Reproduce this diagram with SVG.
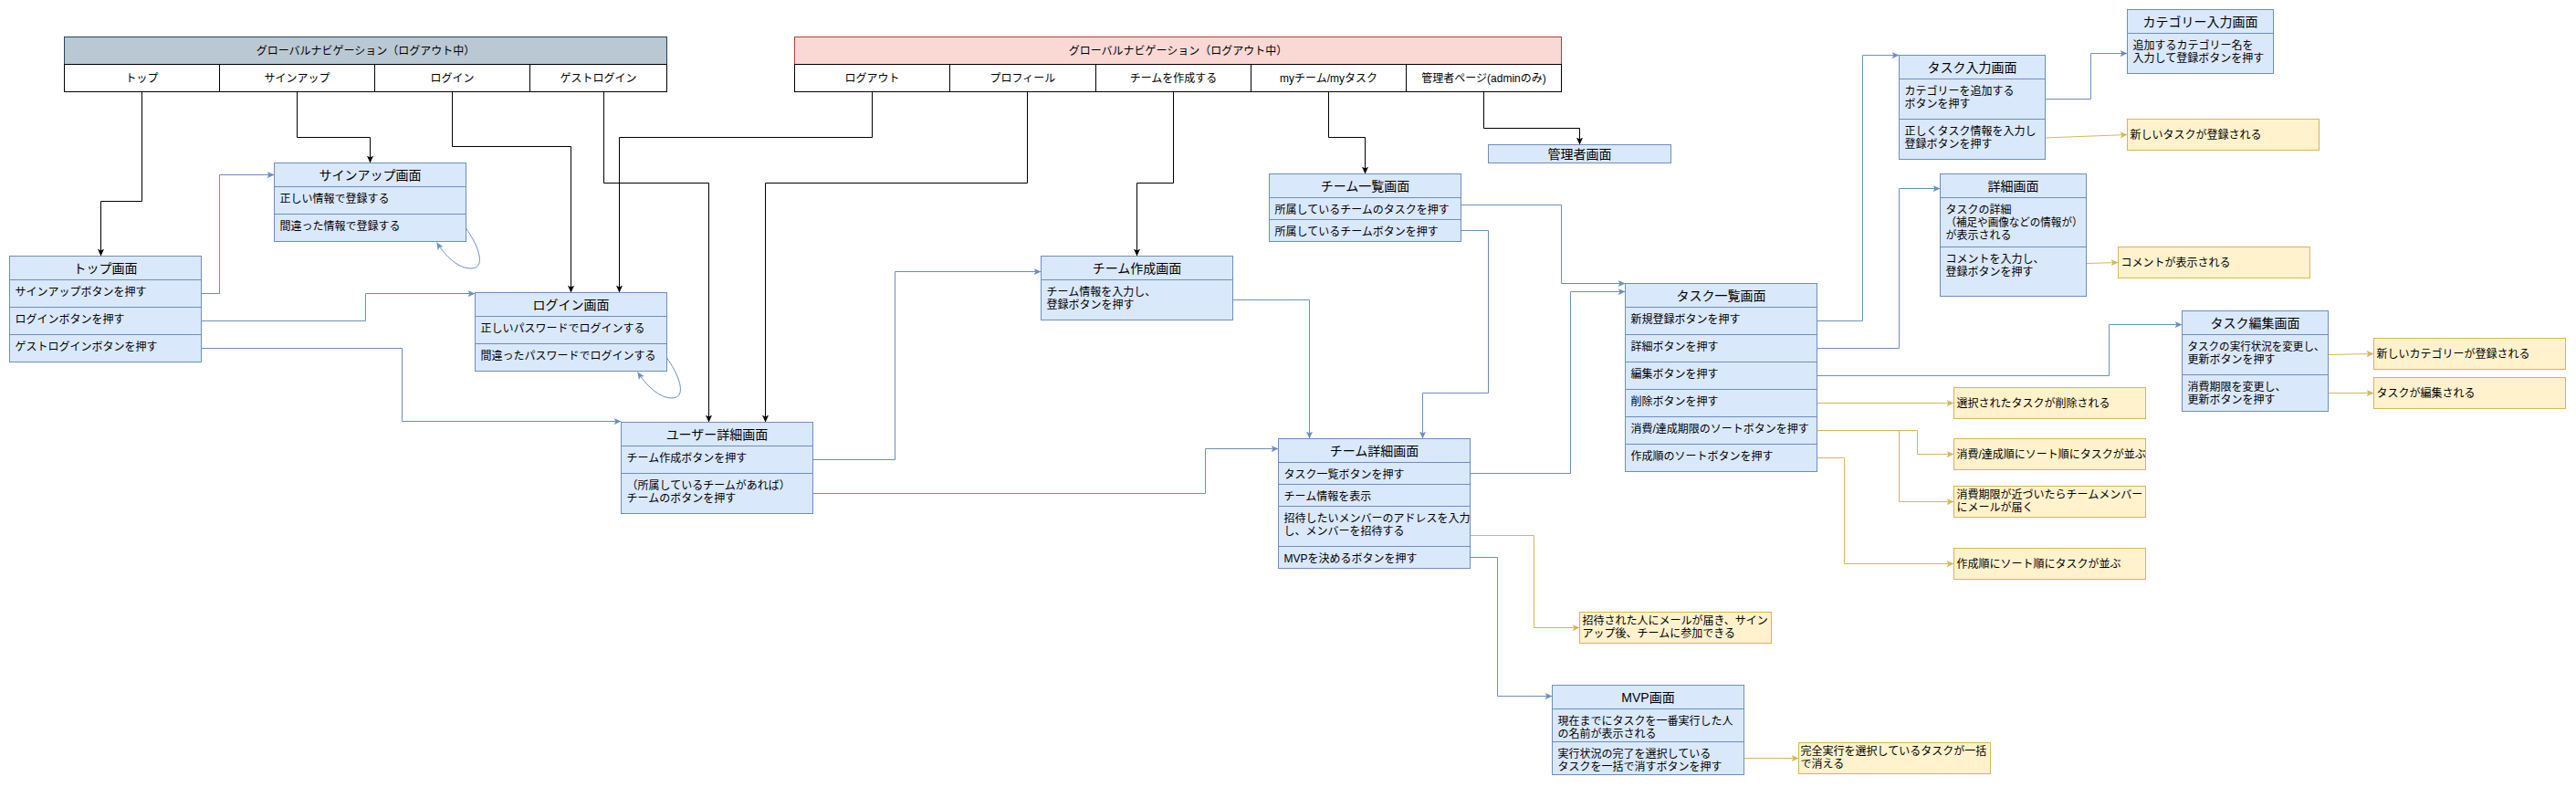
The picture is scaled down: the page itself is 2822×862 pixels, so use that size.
<svg xmlns="http://www.w3.org/2000/svg" width="2822" height="862" viewBox="0 0 2822 862">
<style>
text{font-family:"Liberation Sans","Noto Sans CJK JP",sans-serif;font-size:12px;fill:#000}
.ti{font-size:14px;text-anchor:middle}
.c{text-anchor:middle}
.b{fill:#dae8fc;stroke:#6c8ebf;stroke-width:1}
.d{stroke:#6c8ebf;stroke-width:1;fill:none}
.y{fill:#fff2cc;stroke:#d6b656;stroke-width:1}
.nw{fill:#fff;stroke:#000;stroke-width:1}
.cb{fill:none;stroke:#000;stroke-width:1;marker-end:url(#ab)}
.cl{fill:none;stroke:#6c8ebf;stroke-width:1;marker-end:url(#al)}
.cy{fill:none;stroke:#d6b656;stroke-width:1;marker-end:url(#ay)}
</style>
<defs>
<marker id="ab" viewBox="0 0 10 10" refX="10" refY="5" markerWidth="8" markerHeight="8" markerUnits="userSpaceOnUse" orient="auto"><path d="M0,0.5 L10,5 L0,9.5 L2.5,5 z" fill="#000"/></marker>
<marker id="al" viewBox="0 0 10 10" refX="10" refY="5" markerWidth="8" markerHeight="8" markerUnits="userSpaceOnUse" orient="auto"><path d="M0,0.5 L10,5 L0,9.5 L2.5,5 z" fill="#6c8ebf"/></marker>
<marker id="ay" viewBox="0 0 10 10" refX="10" refY="5" markerWidth="8" markerHeight="8" markerUnits="userSpaceOnUse" orient="auto"><path d="M0,0.5 L10,5 L0,9.5 L2.5,5 z" fill="#d6b656"/></marker>
</defs>
<rect width="2822" height="862" fill="#fff"/>

<g id="connectors">
<path class="cb" d="M155.5,100 V220.5 H110.5 V280.5"/>
<path class="cb" d="M325.5,100 V150.5 H405.5 V178.5"/>
<path class="cb" d="M495.5,100 V160.5 H625.5 V320.5"/>
<path class="cb" d="M661.5,100 V200.5 H776.5 V462.5"/>
<path class="cb" d="M955.5,100 V150.5 H678.5 V320.5"/>
<path class="cb" d="M1125.5,100 V200.5 H838.5 V462.5"/>
<path class="cb" d="M1285.5,100 V200.5 H1245.5 V280.5"/>
<path class="cb" d="M1455.5,100 V150.5 H1495.5 V190.5"/>
<path class="cb" d="M1625.5,100 V140.5 H1730.5 V158.5"/>

<path class="cl" d="M220.5,321.5 H240.5 V191.5 H300.5"/>
<path class="cl" d="M220.5,351.5 H400.5 V321.5 H520.5"/>
<path class="cl" d="M220.5,381.5 H440.5 V461.5 H680.5"/>
<path class="cl" d="M510.5,250 C526,272 532,294 516,294 C502,294 488,281 478.5,265.5"/>
<path class="cl" d="M730.5,392 C746,414 752,436 736,436 C722,436 708,422 698.5,407.5"/>
<path class="cl" d="M890.5,503.5 H980.5 V297.5 H1140.5"/>
<path class="cl" d="M890.5,540.5 H1320.5 V491.5 H1400.5"/>
<path class="cl" d="M1350.5,328.5 H1434.5 V480.5"/>
<path class="cl" d="M1600.5,224.5 H1710.5 V310.5 H1780.5"/>
<path class="cl" d="M1600.5,252.5 H1630.5 V430.5 H1558.5 V480.5"/>
<path class="cl" d="M1610.5,518.5 H1720.5 V319.5 H1780.5"/>
<path class="cl" d="M1610.5,610.5 H1640.5 V762.5 H1700.5"/>
<path class="cl" d="M1990.5,351.5 H2040.5 V60.5 H2080.5"/>
<path class="cl" d="M1990.5,381.5 H2080.5 V206.5 H2125.5"/>
<path class="cl" d="M1990.5,411.5 H2310.5 V355.5 H2390.5"/>
<path class="cl" d="M2240.5,108.5 H2290.5 V58.5 H2330.5"/>

<path class="cy" d="M2240.5,151 L2330.5,147.5"/>
<path class="cy" d="M2285.5,288.5 L2320.5,287.5"/>
<path class="cy" d="M2550.5,388.5 L2600.5,387.5"/>
<path class="cy" d="M2550.5,430.5 H2600.5"/>
<path class="cy" d="M1990.5,441.5 H2140.5"/>
<path class="cy" d="M1990.5,471.5 H2100.5 V497.5 H2140.5"/>
<path class="cy" d="M1990.5,471.5 H2080.5 V549.5 H2140.5"/>
<path class="cy" d="M1990.5,501.5 H2020.5 V617.5 H2140.5"/>
<path class="cy" d="M1610.5,586.5 H1680.5 V687.5 H1730.5"/>
<path class="cy" d="M1910.5,830.5 H1970.5"/>
</g>

<g id="nav-logout">
<rect x="70.5" y="40.5" width="660" height="30" fill="#bac8d3" stroke="#23445d"/>
<text class="c" x="400.5" y="59.5">グローバルナビゲーション（ログアウト中）</text>
<rect class="nw" x="70.5" y="70.5" width="170" height="30"/>
<rect class="nw" x="240.5" y="70.5" width="170" height="30"/>
<rect class="nw" x="410.5" y="70.5" width="170" height="30"/>
<rect class="nw" x="580.5" y="70.5" width="150" height="30"/>
<text class="c" x="155.5" y="89.5">トップ</text>
<text class="c" x="325.5" y="89.5">サインアップ</text>
<text class="c" x="495.5" y="89.5">ログイン</text>
<text class="c" x="655.5" y="89.5">ゲストログイン</text>
</g>

<g id="nav-login">
<rect x="870.5" y="40.5" width="840" height="30" fill="#fad9d5" stroke="#ae4132"/>
<text class="c" x="1290.5" y="59.5">グローバルナビゲーション（ログアウト中）</text>
<rect class="nw" x="870.5" y="70.5" width="170" height="30"/>
<rect class="nw" x="1040.5" y="70.5" width="160" height="30"/>
<rect class="nw" x="1200.5" y="70.5" width="170" height="30"/>
<rect class="nw" x="1370.5" y="70.5" width="170" height="30"/>
<rect class="nw" x="1540.5" y="70.5" width="170" height="30"/>
<text class="c" x="955.5" y="89.5">ログアウト</text>
<text class="c" x="1120.5" y="89.5">プロフィール</text>
<text class="c" x="1285.5" y="89.5">チームを作成する</text>
<text class="c" x="1455.5" y="89.5">myチーム/myタスク</text>
<text class="c" x="1625.5" y="89.5">管理者ページ(adminのみ)</text>
</g>

<g id="top">
<rect class="b" x="10.5" y="280.5" width="210" height="116"/>
<path class="d" d="M10.5,306.5 H220.5 M10.5,336.5 H220.5 M10.5,366.5 H220.5"/>
<text class="ti" x="115.5" y="298.5">トップ画面</text>
<text x="16.5" y="323.5">サインアップボタンを押す</text>
<text x="16.5" y="353.5">ログインボタンを押す</text>
<text x="16.5" y="383.5">ゲストログインボタンを押す</text>
</g>

<g id="signup">
<rect class="b" x="300.5" y="178.5" width="210" height="86"/>
<path class="d" d="M300.5,204.5 H510.5 M300.5,234.5 H510.5"/>
<text class="ti" x="405.5" y="196.5">サインアップ画面</text>
<text x="306.5" y="221.5">正しい情報で登録する</text>
<text x="306.5" y="251.5">間違った情報で登録する</text>
</g>

<g id="login">
<rect class="b" x="520.5" y="320.5" width="210" height="86"/>
<path class="d" d="M520.5,346.5 H730.5 M520.5,376.5 H730.5"/>
<text class="ti" x="625.5" y="338.5">ログイン画面</text>
<text x="526.5" y="363.5">正しいパスワードでログインする</text>
<text x="526.5" y="393.5">間違ったパスワードでログインする</text>
</g>

<g id="user-detail">
<rect class="b" x="680.5" y="462.5" width="210" height="100"/>
<path class="d" d="M680.5,488.5 H890.5 M680.5,518.5 H890.5"/>
<text class="ti" x="785.5" y="480.5">ユーザー詳細画面</text>
<text x="686.5" y="505.5">チーム作成ボタンを押す</text>
<text x="686.5" y="535.5">（所属しているチームがあれば）</text>
<text x="686.5" y="549.5">チームのボタンを押す</text>
</g>

<g id="team-create">
<rect class="b" x="1140.5" y="280.5" width="210" height="70"/>
<path class="d" d="M1140.5,306.5 H1350.5"/>
<text class="ti" x="1245.5" y="298.5">チーム作成画面</text>
<text x="1146.5" y="323.5">チーム情報を入力し、</text>
<text x="1146.5" y="337.5">登録ボタンを押す</text>
</g>

<g id="team-list">
<rect class="b" x="1390.5" y="190.5" width="210" height="74"/>
<path class="d" d="M1390.5,216.5 H1600.5 M1390.5,240.5 H1600.5"/>
<text class="ti" x="1495.5" y="208.5">チーム一覧画面</text>
<text x="1396.5" y="233.5">所属しているチームのタスクを押す</text>
<text x="1396.5" y="257.5">所属しているチームボタンを押す</text>
</g>

<g id="admin">
<rect class="b" x="1630.5" y="158.5" width="200" height="20"/>
<text class="ti" x="1730.5" y="173.5">管理者画面</text>
</g>

<g id="team-detail">
<rect class="b" x="1400.5" y="480.5" width="210" height="142"/>
<path class="d" d="M1400.5,506.5 H1610.5 M1400.5,530.5 H1610.5 M1400.5,554.5 H1610.5 M1400.5,598.5 H1610.5"/>
<text class="ti" x="1505.5" y="498.5">チーム詳細画面</text>
<text x="1406.5" y="523.5">タスク一覧ボタンを押す</text>
<text x="1406.5" y="547.5">チーム情報を表示</text>
<text x="1406.5" y="571.5">招待したいメンバーのアドレスを入力</text>
<text x="1406.5" y="585.5">し、メンバーを招待する</text>
<text x="1406.5" y="615.5">MVPを決めるボタンを押す</text>
</g>

<g id="mvp">
<rect class="b" x="1700.5" y="750.5" width="210" height="98"/>
<path class="d" d="M1700.5,776.5 H1910.5 M1700.5,812.5 H1910.5"/>
<text class="ti" x="1805.5" y="768.5">MVP画面</text>
<text x="1706.5" y="793.5">現在までにタスクを一番実行した人</text>
<text x="1706.5" y="807.5">の名前が表示される</text>
<text x="1706.5" y="829.5">実行状況の完了を選択している</text>
<text x="1706.5" y="843.5">タスクを一括で消すボタンを押す</text>
</g>

<g id="task-list">
<rect class="b" x="1780.5" y="310.5" width="210" height="206"/>
<path class="d" d="M1780.5,336.5 H1990.5 M1780.5,366.5 H1990.5 M1780.5,396.5 H1990.5 M1780.5,426.5 H1990.5 M1780.5,456.5 H1990.5 M1780.5,486.5 H1990.5"/>
<text class="ti" x="1885.5" y="328.5">タスク一覧画面</text>
<text x="1786.5" y="353.5">新規登録ボタンを押す</text>
<text x="1786.5" y="383.5">詳細ボタンを押す</text>
<text x="1786.5" y="413.5">編集ボタンを押す</text>
<text x="1786.5" y="443.5">削除ボタンを押す</text>
<text x="1786.5" y="473.5">消費/達成期限のソートボタンを押す</text>
<text x="1786.5" y="503.5">作成順のソートボタンを押す</text>
</g>

<g id="task-input">
<rect class="b" x="2080.5" y="60.5" width="160" height="114"/>
<path class="d" d="M2080.5,86.5 H2240.5 M2080.5,130.5 H2240.5"/>
<text class="ti" x="2160.5" y="78.5">タスク入力画面</text>
<text x="2086.5" y="103.5">カテゴリーを追加する</text>
<text x="2086.5" y="117.5">ボタンを押す</text>
<text x="2086.5" y="147.5">正しくタスク情報を入力し</text>
<text x="2086.5" y="161.5">登録ボタンを押す</text>
</g>

<g id="category-input">
<rect class="b" x="2330.5" y="10.5" width="160" height="70"/>
<path class="d" d="M2330.5,36.5 H2490.5"/>
<text class="ti" x="2410.5" y="28.5">カテゴリー入力画面</text>
<text x="2336.5" y="53.5">追加するカテゴリー名を</text>
<text x="2336.5" y="67.5">入力して登録ボタンを押す</text>
</g>

<g id="task-detail">
<rect class="b" x="2125.5" y="190.5" width="160" height="134"/>
<path class="d" d="M2125.5,216.5 H2285.5 M2125.5,270.5 H2285.5"/>
<text class="ti" x="2205.5" y="208.5">詳細画面</text>
<text x="2131.5" y="233.5">タスクの詳細</text>
<text x="2131.5" y="247.5" textLength="150" lengthAdjust="spacingAndGlyphs">（補足や画像などの情報が）</text>
<text x="2131.5" y="261.5">が表示される</text>
<text x="2131.5" y="287.5">コメントを入力し、</text>
<text x="2131.5" y="301.5">登録ボタンを押す</text>
</g>

<g id="task-edit">
<rect class="b" x="2390.5" y="340.5" width="160" height="110"/>
<path class="d" d="M2390.5,366.5 H2550.5 M2390.5,410.5 H2550.5"/>
<text class="ti" x="2470.5" y="358.5">タスク編集画面</text>
<text x="2396.5" y="383.5" textLength="150" lengthAdjust="spacingAndGlyphs">タスクの実行状況を変更し、</text>
<text x="2396.5" y="397.5">更新ボタンを押す</text>
<text x="2396.5" y="427.5">消費期限を変更し、</text>
<text x="2396.5" y="441.5">更新ボタンを押す</text>
</g>

<g id="r-new-task"><rect class="y" x="2330.5" y="130.5" width="210" height="34"/><text x="2333.5" y="151.5">新しいタスクが登録される</text></g>
<g id="r-comment"><rect class="y" x="2320.5" y="270.5" width="210" height="34"/><text x="2323.5" y="291.5">コメントが表示される</text></g>
<g id="r-new-category"><rect class="y" x="2600.5" y="370.5" width="210" height="34"/><text x="2603.5" y="391.5">新しいカテゴリーが登録される</text></g>
<g id="r-edited"><rect class="y" x="2600.5" y="413.5" width="210" height="34"/><text x="2603.5" y="434.5">タスクが編集される</text></g>
<g id="r-deleted"><rect class="y" x="2140.5" y="424.5" width="210" height="34"/><text x="2143.5" y="445.5">選択されたタスクが削除される</text></g>
<g id="r-sort-deadline"><rect class="y" x="2140.5" y="480.5" width="210" height="34"/><text x="2143.5" y="501.5">消費/達成順にソート順にタスクが並ぶ</text></g>
<g id="r-mail"><rect class="y" x="2140.5" y="532.5" width="210" height="34"/><text x="2143.5" y="545.5">消費期限が近づいたらチームメンバー</text><text x="2143.5" y="560">にメールが届く</text></g>
<g id="r-sort-created"><rect class="y" x="2140.5" y="600.5" width="210" height="34"/><text x="2143.5" y="621.5">作成順にソート順にタスクが並ぶ</text></g>
<g id="r-invite"><rect class="y" x="1730.5" y="670.5" width="210" height="34"/><text x="1733.5" y="683.5">招待された人にメールが届き、サイン</text><text x="1733.5" y="698">アップ後、チームに参加できる</text></g>
<g id="r-bulk-delete"><rect class="y" x="1970.5" y="813.5" width="210" height="34"/><text x="1972.5" y="826.5">完全実行を選択しているタスクが一括</text><text x="1972.5" y="841">で消える</text></g>
</svg>
